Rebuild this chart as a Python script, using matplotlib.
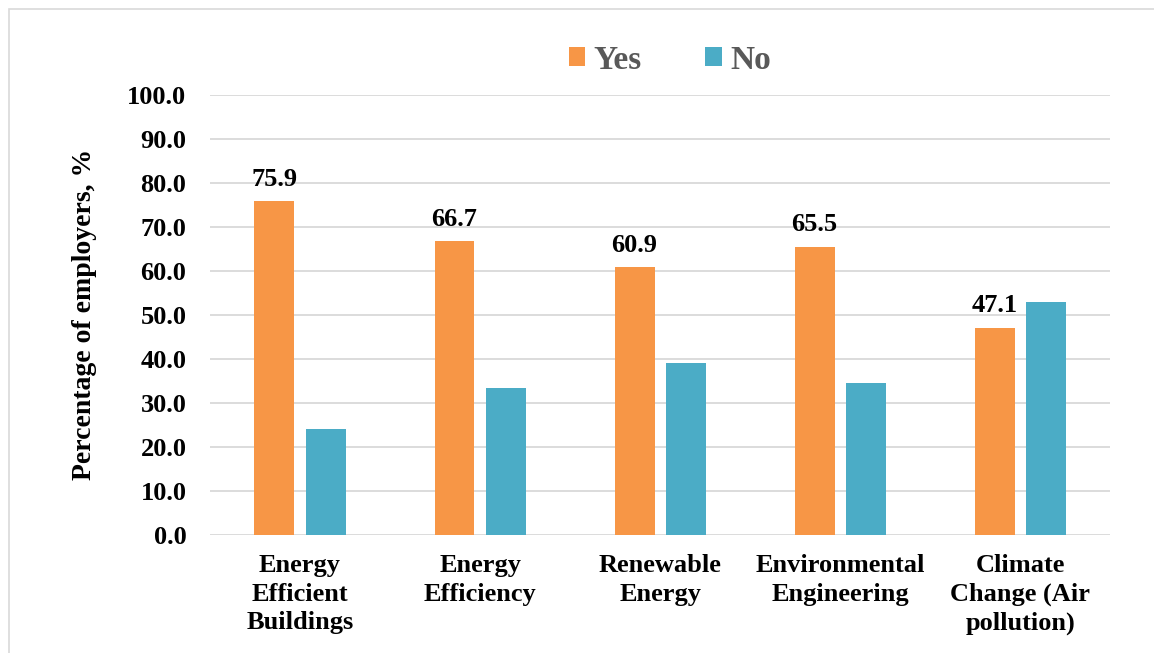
import matplotlib
matplotlib.use("Agg")
import matplotlib.pyplot as plt
import numpy as np
from matplotlib.patches import Rectangle

categories = ["Energy\nEfficient\nBuildings", "Energy\nEfficiency", "Renewable\nEnergy",
              "Environmental\nEngineering", "Climate\nChange (Air\npollution)"]
yes_vals = [75.9, 66.7, 60.9, 65.5, 47.1]
no_vals = [24.1, 33.3, 39.1, 34.5, 52.9]
yticks = np.arange(0, 101, 10)

plt.rcParams['font.family'] = ['Liberation Serif', 'DejaVu Serif']
plt.rcParams['font.weight'] = 'bold'

fig = plt.figure(figsize=(11.54, 6.53), dpi=100)
ax = fig.add_axes([0.182, 0.181, 0.780, 0.674])

x = np.arange(len(categories))
w = 0.222
off = 0.142
ax.bar(x - off, yes_vals, w, color="#F79646", label="Yes", zorder=3)
ax.bar(x + off, no_vals, w, color="#4BACC6", label="No", zorder=3)

for xi, v in zip(x - off, yes_vals):
    ax.text(xi, v + 2.3, "%.1f" % v, ha="center", va="bottom", fontsize=19, fontweight="bold")

ax.set_xlim(-0.5, len(categories) - 0.5)
ax.set_ylim(0, 100)
ax.set_yticks(yticks)
ax.set_yticklabels(["%.1f" % t for t in yticks], fontsize=19, fontweight="bold")
ax.set_xticks(x)
ax.set_xticklabels(categories, fontsize=19, fontweight="bold", linespacing=1.3)
ax.tick_params(axis="both", length=0)
ax.tick_params(axis="y", pad=17)
ax.tick_params(axis="x", pad=14)
ax.grid(axis="y", color="#D9D9D9", linewidth=1.3, zorder=0)
for s in ax.spines.values():
    s.set_visible(False)
ax.set_ylabel("Percentage of employers, %", fontsize=20, fontweight="bold", labelpad=22)

leg = ax.legend(loc="lower center", bbox_to_anchor=(0.511, 0.975), ncol=2, frameon=False,
                prop={"size": 24, "weight": "bold"}, handlelength=0.5, handleheight=0.5,
                handletextpad=0.25, columnspacing=1.9)
for t in leg.get_texts():
    t.set_color("#595959")

# outer frame
fig.patches.append(Rectangle((8.5 / 1154, -0.05), 1.1, 1.05 - 8.5 / 653,
                             transform=fig.transFigure, fill=False,
                             edgecolor="#D9D9D9", linewidth=1.2))

fig.savefig("out.png", dpi=100)
